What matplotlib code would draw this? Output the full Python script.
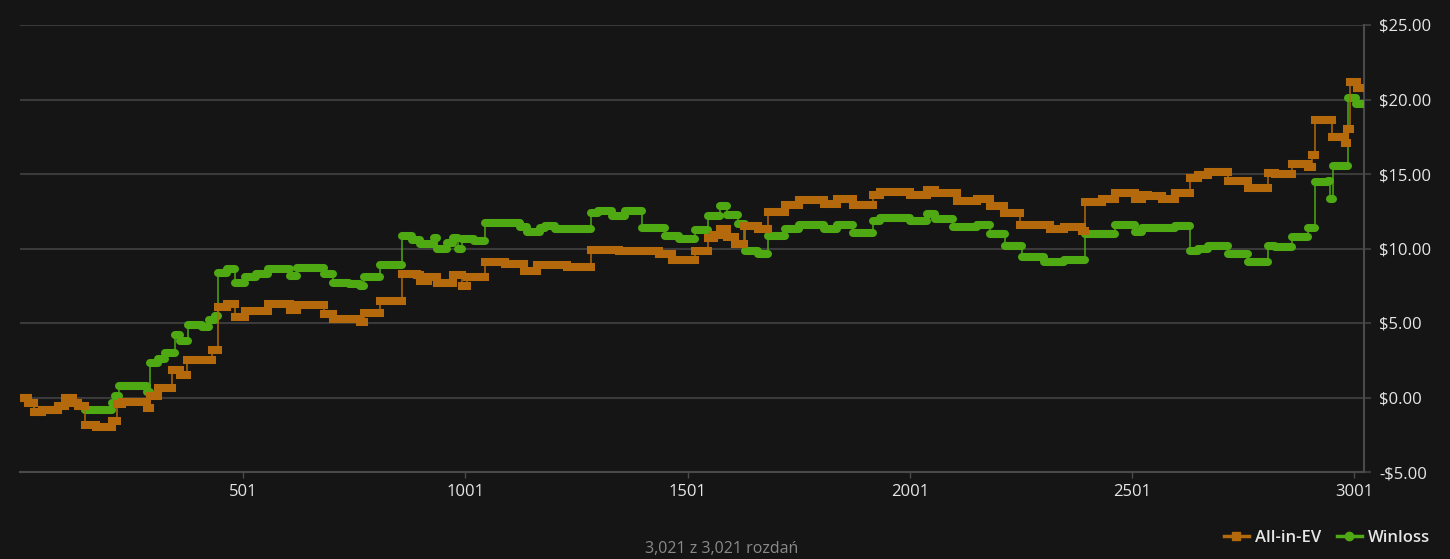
import numpy as np
import matplotlib.pyplot as plt
from matplotlib.lines import Line2D

# ── DATA ((hand, value) where the step starts) ──────────────────────────────
N_HANDS = 3021

ev_steps = [
    (1, 0.0), (18, -0.35), (30, -1.0), (48, -0.85), (85, -0.6), (100, -0.05),
    (119, -0.4), (130, -0.6), (145, -1.85), (170, -1.95), (205, -1.6),
    (217, -0.45), (228, -0.3), (284, -0.7), (292, 0.1), (310, 0.65),
    (340, 1.85), (359, 1.5), (374, 2.5), (431, 3.2), (444, 6.1), (465, 6.3),
    (483, 5.4), (505, 5.8), (558, 6.3), (607, 5.85), (622, 6.2), (682, 5.6),
    (704, 5.3), (764, 5.1), (772, 5.7), (809, 6.5), (858, 8.3), (892, 8.2),
    (899, 7.8), (918, 8.1), (937, 7.7), (974, 8.2), (993, 7.5), (1004, 8.1),
    (1046, 9.1), (1090, 8.95), (1132, 8.5), (1162, 8.9), (1230, 8.75),
    (1283, 9.9), (1346, 9.85), (1436, 9.6), (1466, 9.25), (1518, 9.8),
    (1546, 10.7), (1560, 10.9), (1574, 11.3), (1589, 10.8), (1608, 10.3),
    (1627, 11.5), (1660, 11.3), (1682, 12.45), (1721, 12.9), (1751, 13.25),
    (1807, 13.0), (1837, 13.3), (1874, 12.9), (1919, 13.6), (1934, 13.8),
    (2002, 13.6), (2039, 13.95), (2058, 13.7), (2107, 13.2), (2152, 13.35),
    (2182, 12.85), (2212, 12.4), (2249, 11.55), (2317, 11.3), (2347, 11.45),
    (2388, 11.2), (2395, 13.15), (2433, 13.3), (2463, 13.75), (2508, 13.3),
    (2523, 13.6), (2538, 13.5), (2568, 13.35), (2598, 13.7), (2632, 14.75),
    (2650, 14.95), (2673, 15.15), (2718, 14.55), (2763, 14.05), (2808, 15.1),
    (2823, 15.0), (2861, 15.65), (2898, 15.5), (2906, 16.25), (2913, 18.6),
    (2950, 17.5), (2980, 17.05), (2985, 18.0), (2992, 21.15), (3008, 20.75),
]

winloss_steps = [
    (1, 0.0), (18, -0.35), (30, -1.0), (48, -0.85), (85, -0.6), (100, -0.05),
    (119, -0.4), (130, -0.6), (145, -0.85), (205, -0.4), (213, 0.1),
    (222, 0.8), (284, 0.4), (292, 2.3), (310, 2.6), (325, 3.0), (348, 4.2),
    (359, 3.8), (378, 4.85), (408, 4.7), (425, 5.2), (438, 5.5), (444, 8.35),
    (465, 8.65), (483, 7.7), (505, 8.1), (530, 8.3), (558, 8.6), (607, 8.15),
    (622, 8.7), (682, 8.3), (704, 7.7), (740, 7.6), (764, 7.45), (772, 8.1),
    (809, 8.9), (858, 10.85), (880, 10.6), (899, 10.3), (930, 10.7),
    (937, 10.0), (959, 10.35), (974, 10.7), (985, 10.0), (993, 10.65),
    (1020, 10.5), (1046, 11.7), (1124, 11.45), (1139, 11.1), (1169, 11.4),
    (1180, 11.5), (1203, 11.3), (1283, 12.4), (1300, 12.55), (1331, 12.2),
    (1361, 12.5), (1398, 11.4), (1451, 10.85), (1481, 10.65), (1518, 11.25),
    (1546, 12.2), (1574, 12.85), (1589, 12.25), (1615, 11.65), (1631, 9.85),
    (1660, 9.6), (1683, 10.85), (1721, 11.3), (1751, 11.6), (1807, 11.3),
    (1837, 11.6), (1874, 11.05), (1919, 11.85), (1934, 12.05), (2002, 11.85),
    (2039, 12.3), (2058, 11.95), (2099, 11.45), (2152, 11.6), (2182, 11.0),
    (2216, 10.2), (2253, 9.4), (2302, 9.1), (2347, 9.25), (2395, 11.0),
    (2463, 11.55), (2508, 11.1), (2523, 11.4), (2598, 11.5), (2632, 9.85),
    (2650, 10.0), (2673, 10.2), (2718, 9.6), (2763, 9.1), (2808, 10.15),
    (2823, 10.1), (2861, 10.75), (2898, 11.35), (2913, 14.45), (2943, 14.55),
    (2947, 13.35), (2953, 15.55), (2988, 20.1), (3005, 19.7),
]

x_ticks = [501, 1001, 1501, 2001, 2501, 3001]
y_ticks = [-5, 0, 5, 10, 15, 20, 25]
y_labels = ['-$5.00', '$0.00', '$5.00', '$10.00', '$15.00', '$20.00', '$25.00']
footer = '3,021 z 3,021 rozdań'

# ── STYLE ──────────────────────────────────────────────────────────────────
BG = '#151515'
GRID = '#3a3a3a'
AXIS = '#4a4a4a'
TXT = '#e6e6e6'
C_EV = '#b4690d'
C_WL = '#4ea912'

plt.rcParams['font.family'] = ['Open Sans', 'DejaVu Sans']

fig = plt.figure(figsize=(14.5, 5.59), dpi=100, facecolor=BG)
ax = fig.add_axes([20 / 1450, 1 - 472 / 559, 1344 / 1450, 447 / 559])
ax.set_facecolor(BG)


def draw_steps(steps, color, cap, z):
    h = np.array([s[0] for s in steps], dtype=float)
    v = np.array([s[1] for s in steps], dtype=float)
    h_end = np.append(h[1:], N_HANDS)
    # thin connector line
    ax.plot(np.append(h, N_HANDS), np.append(v, v[-1]), drawstyle='steps-post',
            color=color, lw=1.1, zorder=z)
    # thick "marker" band along each flat stretch
    ax.hlines(v, h, h_end, colors=color, lw=5.8, capstyle=cap, zorder=z)


draw_steps(winloss_steps, C_WL, 'round', 3)
draw_steps(ev_steps, C_EV, 'projecting', 4)

ax.set_xlim(-1, 3023)
ax.set_ylim(-5, 25)

ax.yaxis.tick_right()
ax.set_yticks(y_ticks)
ax.set_yticklabels(y_labels)
ax.set_xticks(x_ticks)
ax.set_xticklabels([str(t) for t in x_ticks])
ax.tick_params(axis='y', colors=GRID, labelcolor=TXT, labelsize=12,
               length=5, width=1.5, pad=6)
ax.tick_params(axis='x', colors=AXIS, labelcolor=TXT, labelsize=12,
               length=4, width=1, pad=5)
ax.grid(axis='y', color=GRID, lw=1.5, zorder=0)
ax.set_axisbelow(True)

for side in ['top', 'left']:
    ax.spines[side].set_visible(False)
ax.spines['right'].set_color(AXIS)
ax.spines['right'].set_linewidth(1.5)
ax.spines['bottom'].set_color(AXIS)
ax.spines['bottom'].set_linewidth(1.5)

handles = [
    Line2D([], [], color=C_EV, lw=2.5, marker='s', markersize=6),
    Line2D([], [], color=C_WL, lw=2.5, marker='o', markersize=6),
]
leg = fig.legend(handles, ['All-in-EV', 'Winloss'], loc='center right',
                 bbox_to_anchor=(0.997, 1 - 538 / 559), ncol=2, frameon=False,
                 handlelength=1.5, handletextpad=0.4, columnspacing=0.9,
                 prop={'weight': 'semibold', 'size': 12})
for t in leg.get_texts():
    t.set_color(TXT)

fig.text(0.498, 1 - 549 / 559, footer, ha='center', va='center',
         color='#8a8a8a', fontsize=11.5)

fig.savefig('out.png', dpi=100, facecolor=BG)
